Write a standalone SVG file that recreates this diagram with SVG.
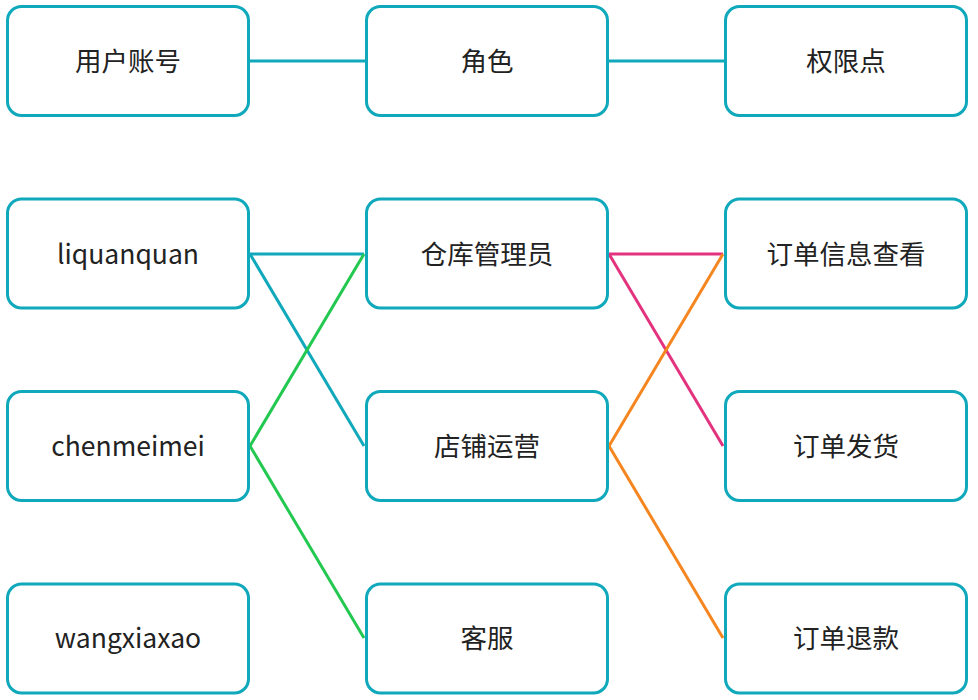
<svg xmlns="http://www.w3.org/2000/svg" width="978" height="700" viewBox="0 0 978 700">
<style>
.box{fill:#fff;stroke:#10a8bb;stroke-width:3}
.t{font-family:"Noto Sans CJK SC","Liberation Sans",sans-serif;font-size:26.5px;fill:#222;text-anchor:middle;dominant-baseline:central}
.c{fill:none;stroke-width:3;stroke-linecap:butt}
.teal{stroke:#10a8bb}.green{stroke:#22c84f}.pink{stroke:#e3337f}.orange{stroke:#f5861f}
</style>
<rect width="978" height="700" fill="#fff"/>
<g id="connectors">
<line class="c teal" x1="249" y1="61" x2="366" y2="61"/>
<line class="c teal" x1="608" y1="61" x2="725" y2="61"/>
<line class="c teal" x1="250" y1="254" x2="364" y2="254"/>
<line class="c teal" x1="250" y1="254" x2="364" y2="446"/>
<line class="c green" x1="364" y1="254" x2="250" y2="446"/>
<line class="c green" x1="250" y1="446" x2="364" y2="638"/>
<line class="c pink" x1="609" y1="254" x2="723" y2="254"/>
<line class="c pink" x1="609" y1="254" x2="723" y2="446"/>
<line class="c orange" x1="723" y1="254" x2="609" y2="446"/>
<line class="c orange" x1="609" y1="446" x2="723" y2="638"/>
</g>
<g id="n-user"><rect class="box" x="7.5" y="6.5" width="241" height="109" rx="14"/><text class="t" x="128" y="59.5">用户账号</text></g>
<g id="n-role"><rect class="box" x="366.5" y="6.5" width="241" height="109" rx="14"/><text class="t" x="487" y="59.5">角色</text></g>
<g id="n-perm"><rect class="box" x="725.5" y="6.5" width="241" height="109" rx="14"/><text class="t" x="846" y="59.5">权限点</text></g>
<g id="n-liquanquan"><rect class="box" x="7.5" y="199" width="241" height="109" rx="14"/><text class="t" x="128" y="252">liquanquan</text></g>
<g id="n-chenmeimei"><rect class="box" x="7.5" y="391.5" width="241" height="109" rx="14"/><text class="t" x="128" y="444.5">chenmeimei</text></g>
<g id="n-wangxiaxao"><rect class="box" x="7.5" y="584" width="241" height="109" rx="14"/><text class="t" x="128" y="636.5">wangxiaxao</text></g>
<g id="n-warehouse"><rect class="box" x="366.5" y="199" width="241" height="109" rx="14"/><text class="t" x="487" y="252">仓库管理员</text></g>
<g id="n-shopop"><rect class="box" x="366.5" y="391.5" width="241" height="109" rx="14"/><text class="t" x="487" y="444.5">店铺运营</text></g>
<g id="n-cs"><rect class="box" x="366.5" y="584" width="241" height="109" rx="14"/><text class="t" x="487" y="636.5">客服</text></g>
<g id="n-view"><rect class="box" x="725.5" y="199" width="241" height="109" rx="14"/><text class="t" x="846" y="252">订单信息查看</text></g>
<g id="n-ship"><rect class="box" x="725.5" y="391.5" width="241" height="109" rx="14"/><text class="t" x="846" y="444.5">订单发货</text></g>
<g id="n-refund"><rect class="box" x="725.5" y="584" width="241" height="109" rx="14"/><text class="t" x="846" y="636.5">订单退款</text></g>
</svg>
